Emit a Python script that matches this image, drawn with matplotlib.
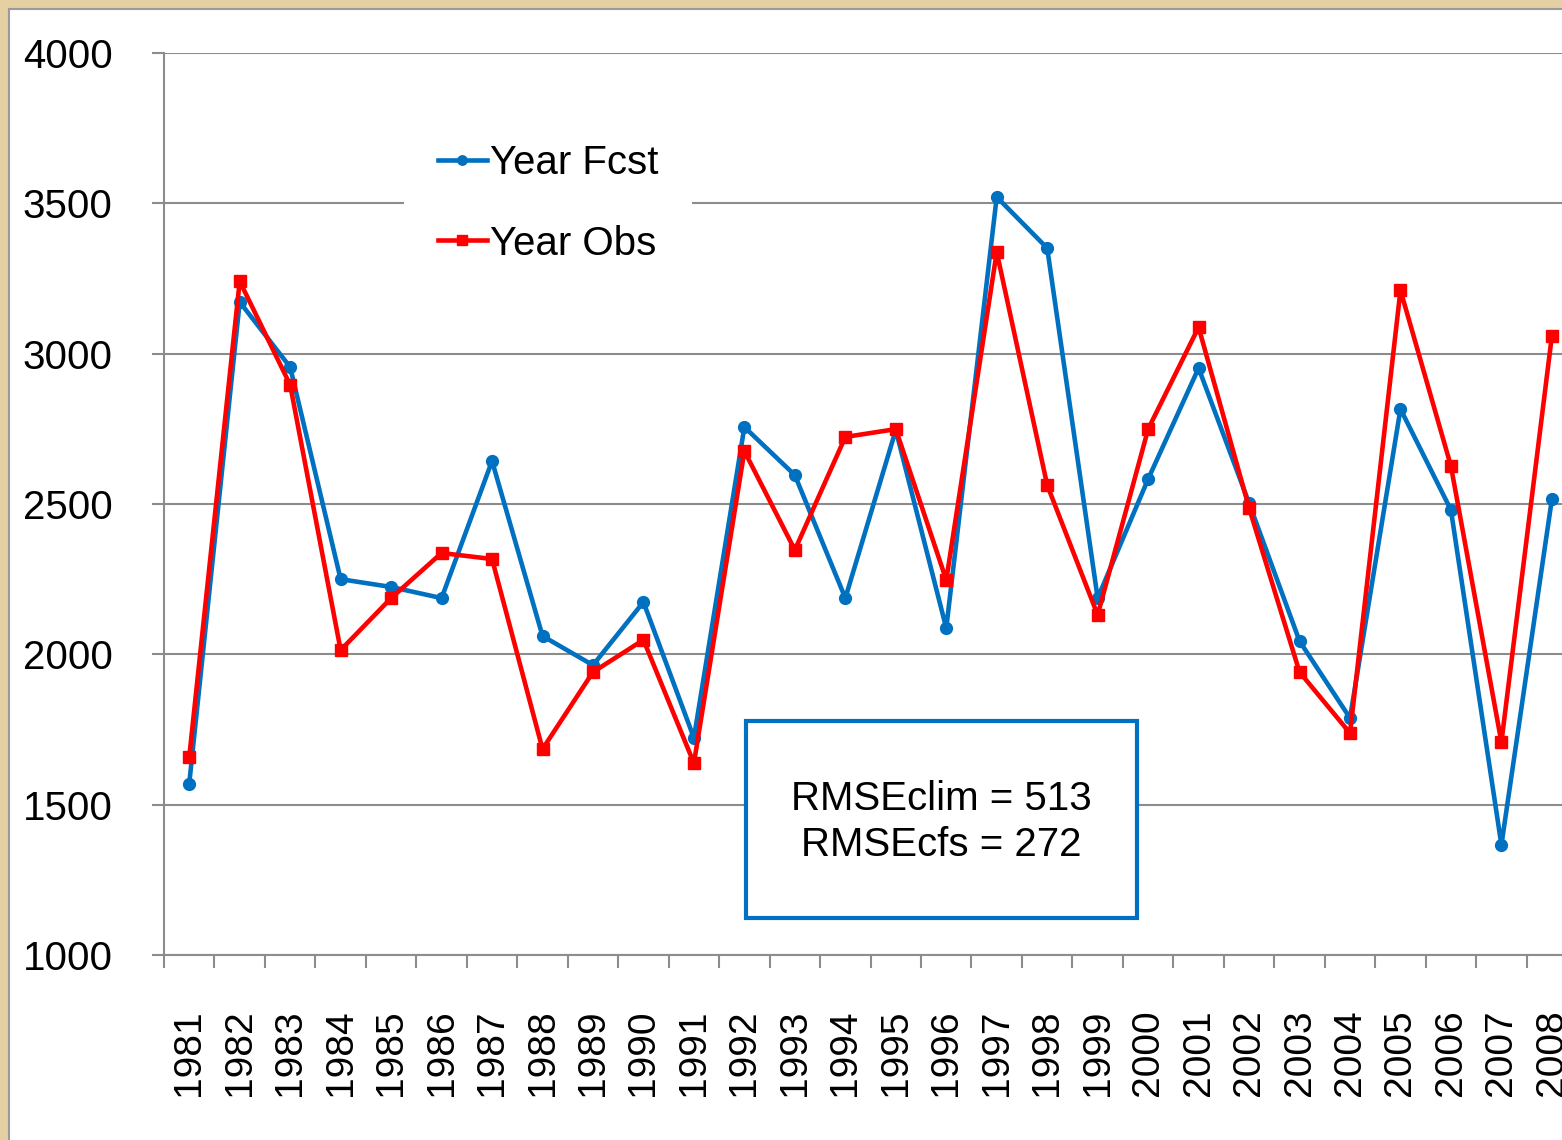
import matplotlib.pyplot as plt
from matplotlib.patches import Rectangle
from matplotlib.ticker import FixedLocator

plt.rcParams['font.family'] = ['Liberation Sans', 'DejaVu Sans']

years = [str(y) for y in range(1981, 2009)]
year_fcst = [1570, 3172, 2955, 2250, 2224, 2187, 2643, 2061, 1964, 2174,
             1722, 2756, 2596, 2187, 2746, 2087, 3521, 3351, 2187, 2583,
             2952, 2503, 2044, 1788, 2816, 2480, 1366, 2516]
year_obs = [1658, 3241, 2896, 2014, 2187, 2337, 2317, 1685, 1941, 2048,
            1638, 2676, 2347, 2723, 2749, 2247, 3338, 2563, 2131, 2749,
            3088, 2487, 1941, 1738, 3211, 2626, 1708, 3059]
rmse_text = 'RMSEclim = 513\nRMSEcfs = 272'

W, H = 1562, 1140
fig = plt.figure(figsize=(W / 100, H / 100), dpi=100, facecolor='#e4d0a2')

# white panel with thin gray border, behind the axes
fig.add_artist(Rectangle((9 / W, -0.01), 1.0, 1 - 9 / H + 0.01, transform=fig.transFigure,
                         facecolor='white', edgecolor='#9a9a9a', linewidth=1.5, zorder=-5))

ax = fig.add_axes([164 / W, 1 - 955 / H, (W - 164) / W, (955 - 53) / H])
ax.set_facecolor('none')

x = list(range(len(years)))
ax.plot(x, year_fcst, color='#0070C0', linewidth=3.3, marker='o', markersize=8.5,
        label='Year Fcst', zorder=3, clip_on=False)
ax.plot(x, year_obs, color='#FF0000', linewidth=3.3, marker='s', markersize=9,
        label='Year Obs', zorder=4, clip_on=False)

ax.set_ylim(1000, 4000)
ax.set_xlim(-0.5, (W - 190) / 50.44)
ax.set_yticks(range(1000, 4001, 500))
ax.yaxis.grid(True, color='#8c8c8c', linewidth=1.5)
ax.set_axisbelow(True)

ax.set_xticks(x)
ax.set_xticklabels(years, rotation=90, fontsize=28, va='top', ha='center')
ax.xaxis.set_minor_locator(FixedLocator([i - 0.5 for i in range(len(years) + 1)]))
ax.tick_params(axis='x', which='major', length=0, pad=39)
ax.tick_params(axis='x', which='minor', length=9, width=1.5, color='#8c8c8c', direction='out')
ax.tick_params(axis='y', length=9, width=1.5, color='#8c8c8c', direction='out',
               labelsize=29, pad=28)

for side in ['top', 'right']:
    ax.spines[side].set_visible(False)
for side in ['left', 'bottom']:
    ax.spines[side].set_color('#8c8c8c')
    ax.spines[side].set_linewidth(1.5)

leg = ax.legend(loc='upper left', bbox_to_anchor=(404 / W, 1 - 110 / H),
                bbox_transform=fig.transFigure, fontsize=29, frameon=True,
                facecolor='white', edgecolor='none', framealpha=1, fancybox=False,
                borderaxespad=0, borderpad=0.85, handlelength=1.2, handletextpad=0.08,
                labelspacing=1.05, markerscale=0.8)

# RMSE box
fig.add_artist(Rectangle((746 / W, 1 - 918 / H), 391 / W, 197 / H, transform=fig.transFigure,
                         facecolor='white', edgecolor='#0070C0', linewidth=3, zorder=5))
fig.text(941 / W, 1 - 822 / H, rmse_text, ha='center', va='center', fontsize=29,
         linespacing=1.28, zorder=6)

fig.savefig('out.png', dpi=100, facecolor=fig.get_facecolor())
